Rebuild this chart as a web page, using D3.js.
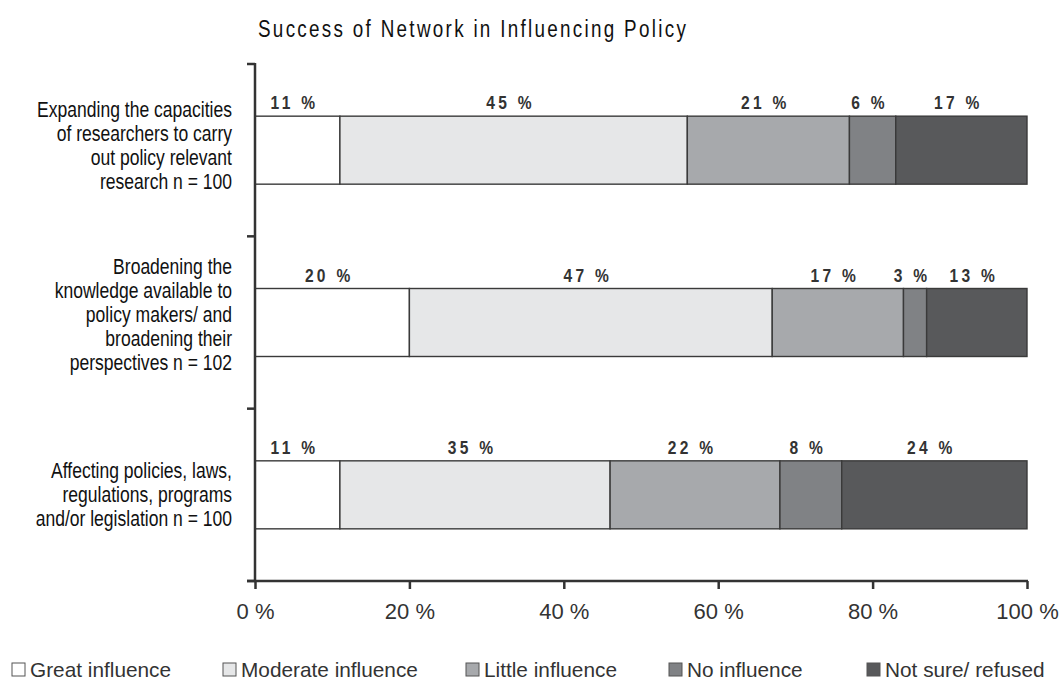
<!DOCTYPE html>
<html>
<head>
<meta charset="utf-8">
<script src="https://cdn.jsdelivr.net/npm/d3@7/dist/d3.min.js"></script>
<style>
  html, body { margin: 0; padding: 0; background: #fff; }
  svg { display: block; }
</style>
</head>
<body>
<svg id="chart" width="1063" height="681"></svg>
<script>
// ---- DATA ----
const title = "Success of Network in Influencing Policy";
const categories = [
  ["Expanding the capacities", "of researchers to carry", "out policy relevant", "research n = 100"],
  ["Broadening the", "knowledge available to", "policy makers/ and", "broadening their", "perspectives n = 102"],
  ["Affecting policies, laws,", "regulations, programs", "and/or legislation n = 100"]
];
const seriesNames = ["Great influence", "Moderate influence", "Little influence", "No influence", "Not sure/ refused"];
const greatInfluence    = [11, 20, 11];
const moderateInfluence = [45, 47, 35];
const littleInfluence   = [21, 17, 22];
const noInfluence       = [6, 3, 8];
const notSure           = [17, 13, 24];
const xTicks = [0, 20, 40, 60, 80, 100];

// ---- STYLE / LAYOUT ----
const colors = ["#ffffff", "#e6e7e8", "#a7a9ac", "#808285", "#58595b"];
const font = "'Liberation Sans', Arial, sans-serif";
const NARROW = 0.82; // horizontal squeeze to emulate a condensed face
const ink = "#333333";
const legendX = [12, 223, 466, 669, 867];

const svg = d3.select("#chart");
const catKeys = categories.map((c, i) => "c" + i);
const seriesVals = [greatInfluence, moderateInfluence, littleInfluence, noInfluence, notSure];

const rows = catKeys.map((k, i) => {
  const o = { key: k };
  seriesNames.forEach((s, j) => o[s] = seriesVals[j][i]);
  return o;
});
const stacked = d3.stack().keys(seriesNames)(rows);

const x = d3.scaleLinear().domain([0, 100]).range([255, 1027]);
const y = d3.scaleBand().domain(catKeys).range([64, 581]).padding(0);
const barH = 68;
const barY = k => y(k) + (y.bandwidth() - barH) / 2;

function narrowText(parent, tx, ty) {
  return parent.append("g")
    .attr("transform", `translate(${tx},${ty}) scale(${NARROW},1)`)
    .append("text").attr("x", 0).attr("y", 0).attr("font-family", font);
}

// Title
narrowText(svg, 258, 37)
  .attr("font-size", 23)
  .attr("letter-spacing", 2.8)
  .attr("fill", "#111")
  .text(title);

// Bars
const g = svg.append("g");
stacked.forEach((layer, j) => {
  g.selectAll(null).data(layer).enter().append("rect")
    .attr("x", d => x(d[0]))
    .attr("width", d => x(d[1]) - x(d[0]))
    .attr("y", d => barY(d.data.key))
    .attr("height", barH)
    .attr("fill", colors[j])
    .attr("stroke", "#3a3a3a")
    .attr("stroke-width", 1.4);
  layer.forEach(d => {
    narrowText(g, x((d[0] + d[1]) / 2) - 3, barY(d.data.key) - 7)
      .attr("text-anchor", "middle")
      .attr("font-weight", "bold")
      .attr("font-size", 19).attr("letter-spacing", 4)
      .attr("fill", ink)
      .text((d[1] - d[0]) + " %");
  });
});

// Category labels
categories.forEach((lines, i) => {
  const k = catKeys[i];
  const cy = y(k) + y.bandwidth() / 2 - (lines.length - 3) * 4;
  const lh = 24;
  lines.forEach((ln, li) => {
    narrowText(svg, 232, cy + (li - (lines.length - 1) / 2) * lh + 7)
      .attr("text-anchor", "end")
      .attr("font-size", 21.4)
      .attr("fill", "#111")
      .text(ln);
  });
});

// Y axis
const axisG = svg.append("g").attr("stroke", ink).attr("stroke-width", 2.5);
axisG.append("line").attr("x1", 255).attr("x2", 255).attr("y1", 63).attr("y2", 582);
const bounds = catKeys.map(k => y(k)).concat([y.range()[1]]);
bounds.forEach(b => {
  axisG.append("line").attr("x1", 247).attr("x2", 255).attr("y1", b).attr("y2", b);
});

// X axis
const xAxis = d3.axisBottom(x).tickValues(xTicks).tickSize(8).tickPadding(14)
  .tickFormat(d => d + " %");
const xg = svg.append("g").attr("transform", "translate(0,581)").call(xAxis);
xg.select(".domain").remove();
xg.selectAll(".tick line").attr("stroke", ink).attr("stroke-width", 2.5);
xg.selectAll(".tick text")
  .attr("font-family", font).attr("font-size", 22).attr("fill", ink);
svg.append("line").attr("x1", 247).attr("x2", 1028).attr("y1", 581).attr("y2", 581)
  .attr("stroke", ink).attr("stroke-width", 2.5);

// Legend
const lg = svg.append("g");
seriesNames.forEach((s, j) => {
  lg.append("rect")
    .attr("x", legendX[j]).attr("y", 663).attr("width", 13).attr("height", 13)
    .attr("fill", colors[j]).attr("stroke", "#555").attr("stroke-width", 1);
  lg.append("text")
    .attr("x", legendX[j] + 18).attr("y", 677)
    .attr("font-family", font).attr("font-size", 20.8).attr("fill", ink)
    .text(s);
});
</script>
</body>
</html>
